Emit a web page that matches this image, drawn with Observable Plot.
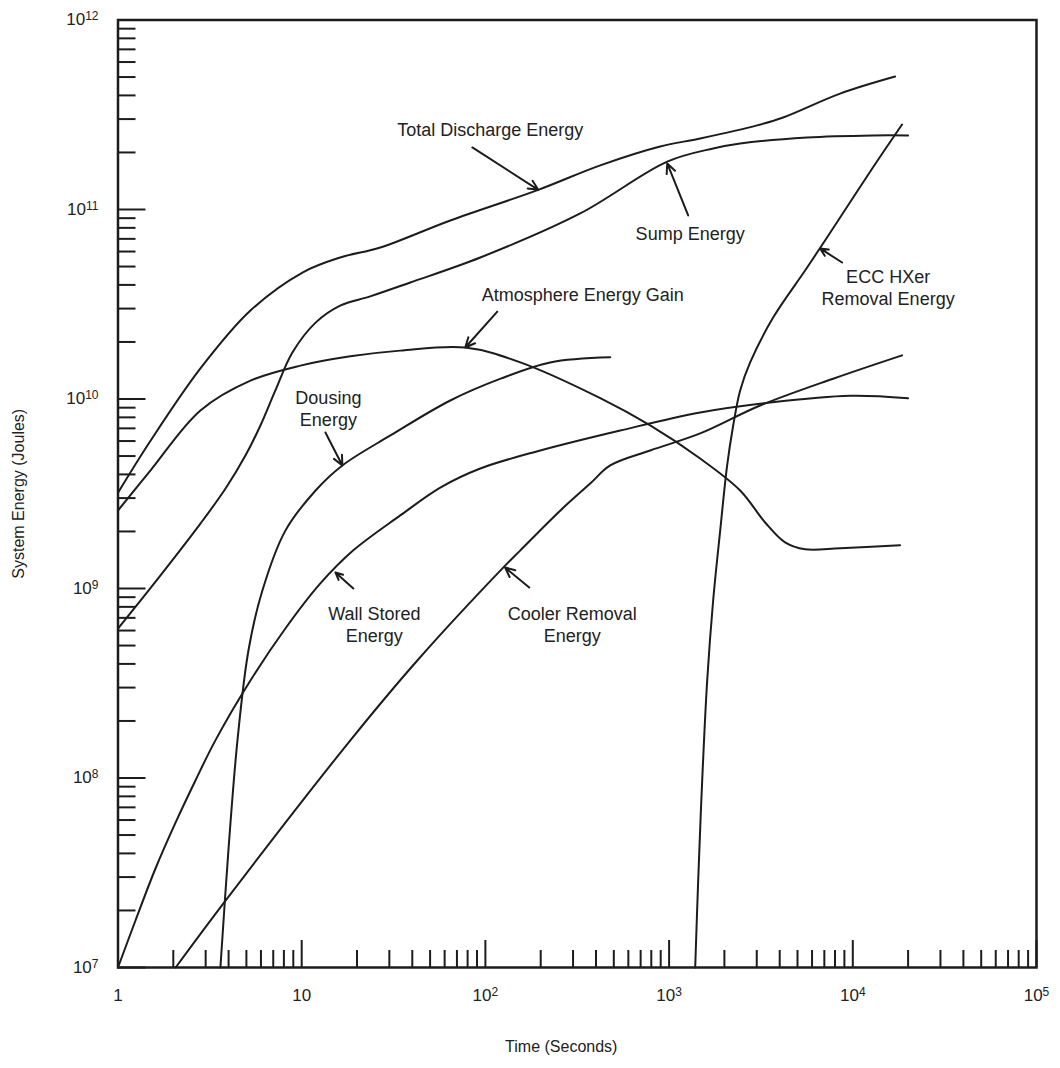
<!DOCTYPE html>
<html><head><meta charset="utf-8">
<script src="https://cdn.jsdelivr.net/npm/d3@7"></script>
<script src="https://cdn.jsdelivr.net/npm/@observablehq/plot@0.6"></script>
<style>body{margin:0;background:#fff}</style>
</head><body><div id="chart"></div>
<script>
// ---- Data: [time (s), energy (J)] ----
const totalDischarge = [[1,3.2e9],[1.5,6.0e9],[2.81,1.45e10],[5.26,2.93e10],[10.1,4.65e10],[16.2,5.58e10],[26.8,6.3e10],[64.4,8.75e10],[194,1.27e11],[422,1.71e11],[894,2.15e11],[1476,2.37e11],[3015,2.78e11],[4177,3.06e11],[8530,4.09e11],[16990,5.03e11]];
const sumpEnergy = [[1,6.15e8],[1.7,1.17e9],[2.81,2.20e9],[3.85,3.37e9],[4.94,5.03e9],[5.96,7.25e9],[7.19,1.11e10],[8.9,1.76e10],[11.9,2.53e10],[16.2,3.11e10],[23.6,3.48e10],[39,4.12e10],[93.8,5.58e10],[328,9.53e10],[977,1.79e11],[1737,2.10e11],[2437,2.23e11],[5642,2.40e11],[12890,2.46e11],[20000,2.46e11]];
const atmosphereGain = [[1,2.58e9],[1.5,4.19e9],[2.81,8.7e9],[5.26,1.25e10],[9.84,1.5e10],[18.4,1.68e10],[34.4,1.80e10],[77.7,1.87e10],[155,1.56e10],[422,1.01e10],[789,7.25e9],[1476,4.85e9],[2437,3.29e9],[3333,2.23e9],[4280,1.75e9],[5500,1.61e9],[8530,1.63e9],[18080,1.69e9]];
const dousingEnergy = [[3.61,1e7],[3.99,4.14e7],[4.47,1.58e8],[5.13,4.71e8],[6.11,9.76e8],[8.15,2.02e9],[11.9,3.29e9],[16.65,4.46e9],[30.4,6.42e9],[64.4,9.82e9],[121,1.28e10],[225,1.56e10],[478,1.66e10]];
const wallStored = [[1,1e7],[1.245,1.77e7],[1.6,3.33e7],[2.06,5.83e7],[2.64,9.7e7],[3.39,1.58e8],[5.26,3.27e8],[8.15,6.15e8],[12.6,1.06e9],[19.1,1.59e9],[34.4,2.43e9],[56.8,3.41e9],[93.8,4.30e9],[199,5.35e9],[542,6.82e9],[1476,8.49e9],[3548,9.58e9],[9667,1.04e10],[20000,1.01e10]];
const coolerRemoval = [[2.06,1e7],[3.75,2.18e7],[18.4,1.58e8],[42.6,4.17e8],[128,1.32e9],[155,1.59e9],[256,2.58e9],[372,3.58e9],[478,4.46e9],[789,5.35e9],[1476,6.58e9],[3130,9.24e9],[7813,1.28e10],[18540,1.70e10]];
const eccHxerRemoval = [[1387,1e7],[1440,2.88e7],[1514,9.7e7],[1612,3.27e8],[1737,8.64e8],[1897,2.02e9],[2070,4.46e9],[2233,7.25e9],[2437,1.11e10],[2762,1.56e10],[3684,2.69e10],[5642,4.94e10],[8530,9.07e10],[12890,1.67e11],[18540,2.81e11]];

const seriesList = [
  ["Total Discharge Energy", totalDischarge],
  ["Sump Energy", sumpEnergy],
  ["Atmosphere Energy Gain", atmosphereGain],
  ["Dousing Energy", dousingEnergy],
  ["Wall Stored Energy", wallStored],
  ["Cooler Removal Energy", coolerRemoval],
  ["ECC HXer Removal Energy", eccHxerRemoval]
];

// Annotation labels (data-space anchors) and arrows [x1, y1, x2, y2]
const labelTexts = ["Total Discharge Energy", "Sump Energy", "Atmosphere Energy Gain", "ECC HXer\nRemoval Energy", "Dousing\nEnergy", "Wall Stored\nEnergy", "Cooler Removal\nEnergy"];
const labelX = [106.3, 1302, 338.8, 15570, 13.97, 24.86, 297];
const labelY = [2.645e11, 7.56e10, 3.60e10, 3.92e10, 8.97e9, 6.50e8, 6.50e8];
const arrowList = [
  [84.9, 2.125e11, 194, 1.27e11],
  [1270, 9.30e10, 977, 1.75e11],
  [116.1, 2.89e10, 77.7, 1.87e10],
  [8746, 5.25e10, 6640, 6.23e10],
  [13.46, 6.66e9, 16.65, 4.46e9],
  [19.11, 1.0e9, 15.26, 1.215e9],
  [173.3, 1.012e9, 128, 1.29e9]
];

// Tick values
const xMajor = [1, 10, 100, 1000, 10000, 100000];
const yMajor = [1e7, 1e8, 1e9, 1e10, 1e11, 1e12];
const xMinor = [];
for (const d of [1, 10, 100, 1000, 10000]) for (let k = 2; k <= 9; k++) xMinor.push(k * d);
const yMinor = [];
for (const d of [1e7, 1e8, 1e9, 1e10, 1e11]) for (let k = 2; k <= 9; k++) yMinor.push(k * d);

const rows = seriesList.flatMap(([name, pts]) => pts.map(([t, e]) => ({name, t, e})));
const labels = labelTexts.map((text, i) => ({text, x: labelX[i], y: labelY[i]}));
const arrows = arrowList.map(([x1, y1, x2, y2]) => ({x1, y1, x2, y2}));

const W = 1060, H = 1068, ML = 117.5, MR = 24, MT = 19.5, MB = 101;
const PW = W - ML - MR, PH = H - MT - MB;
const ink = "#1c1c1c";

const chart = Plot.plot({
  width: W, height: H,
  marginLeft: ML, marginRight: MR, marginTop: MT, marginBottom: MB,
  style: {fontFamily: "'Liberation Sans', Arial, Helvetica, sans-serif", background: "#fff", color: "#222"},
  x: {type: "log", domain: [1, 1e5], axis: null},
  y: {type: "log", domain: [1e7, 1e12], axis: null},
  marks: [
    Plot.tickY(yMinor, {y: d => d, insetLeft: 0, insetRight: PW - 18, stroke: ink, strokeWidth: 2}),
    Plot.tickY(yMajor, {y: d => d, insetLeft: 0, insetRight: PW - 28, stroke: ink, strokeWidth: 2}),
    Plot.tickX(xMinor, {x: d => d, insetBottom: 0, insetTop: PH - 17, stroke: ink, strokeWidth: 2}),
    Plot.tickX(xMajor, {x: d => d, insetBottom: 0, insetTop: PH - 27, stroke: ink, strokeWidth: 2}),
    Plot.line(rows, {x: "t", y: "e", z: "name", curve: "catmull-rom", stroke: ink, strokeWidth: 2}),
    Plot.arrow(arrows, {x1: "x1", y1: "y1", x2: "x2", y2: "y2", stroke: ink, strokeWidth: 2, headLength: 8, headAngle: 50}),
    Plot.text(labels, {x: "x", y: "y", text: "text", fontSize: 18, lineHeight: 1.22, fill: "#222"}),
    Plot.text(yMajor, {y: d => d, frameAnchor: "left", dx: -19.5, textAnchor: "end", fontSize: 17, fill: "#222",
      text: d => `10^${Math.round(Math.log10(d))}`}),
    Plot.text(xMajor, {x: d => d, frameAnchor: "bottom", dy: 33, fontSize: 17, fill: "#222",
      text: d => d === 1 ? "1" : d === 10 ? "10" : `10^${Math.round(Math.log10(d))}`}),
    Plot.text(["System Energy (Joules)"], {frameAnchor: "left", dx: -99, rotate: -90, textAnchor: "middle", fontSize: 16, fill: "#222"}),
    Plot.text(["Time (Seconds)"], {frameAnchor: "bottom", dy: 84, dx: -16, textAnchor: "middle", fontSize: 16, fill: "#222"}),
    Plot.frame({stroke: ink, strokeWidth: 2.5})
  ]
});

// superscript exponents for powers of ten
chart.querySelectorAll("text").forEach(t => {
  const m = /^10\^(\d+)$/.exec(t.textContent);
  if (m) {
    t.textContent = "10";
    const ts = document.createElementNS("http://www.w3.org/2000/svg", "tspan");
    ts.setAttribute("dy", "-5");
    ts.setAttribute("font-size", "12");
    ts.textContent = m[1];
    t.appendChild(ts);
  }
});

document.getElementById("chart").appendChild(chart);
</script>
</body></html>
